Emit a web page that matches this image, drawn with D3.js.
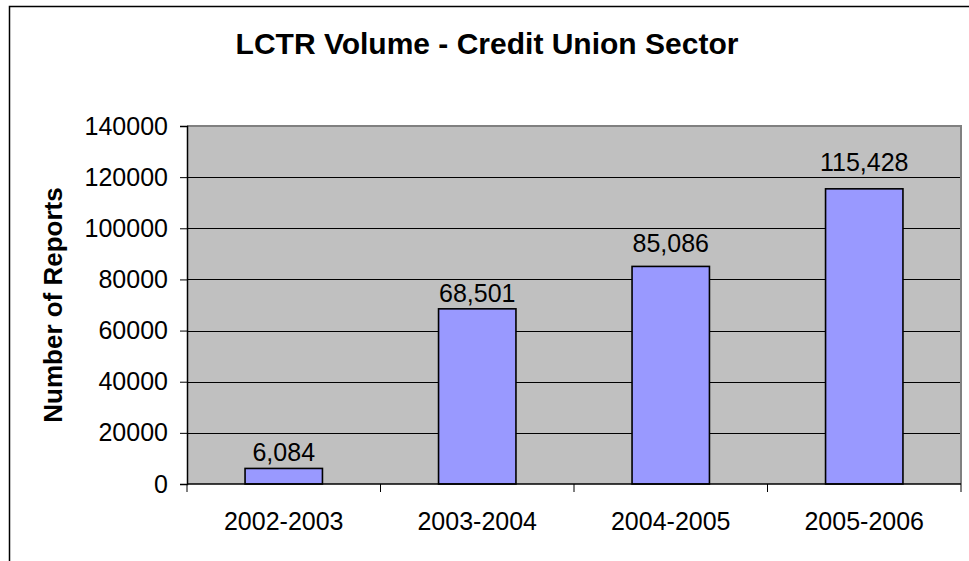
<!DOCTYPE html>
<html>
<head>
<meta charset="utf-8">
<script src="https://cdn.jsdelivr.net/npm/d3@7"></script>
<style>
  html, body { margin: 0; padding: 0; background: #fff; }
  svg { display: block; font-family: Arial, "Liberation Sans", sans-serif; }
</style>
</head>
<body>
<svg id="chart" width="969" height="561"></svg>
<script>
// Reporting periods and the number of LCTRs filed in each
const periods = ["2002-2003", "2003-2004", "2004-2005", "2005-2006"];
const reports = [6084, 68501, 85086, 115428];
const yTicks = [0, 20000, 40000, 60000, 80000, 100000, 120000, 140000];

const svg = d3.select("#chart");
const W = 969, H = 561;
const plot = { left: 187, right: 961, top: 126, bottom: 484 };

// Chart-area frame (left and top edges)
svg.append("path")
  .attr("d", `M9.5,${H} V6.5 H${W}`)
  .attr("fill", "none").attr("stroke", "#000").attr("stroke-width", 1.5);

const x = d3.scaleBand().domain(periods).range([plot.left, plot.right]).paddingInner(0).paddingOuter(0);
const y = d3.scaleLinear().domain([0, 140000]).range([plot.bottom, plot.top]);

// Plot background
svg.append("rect")
  .attr("x", plot.left).attr("y", plot.top)
  .attr("width", plot.right - plot.left).attr("height", plot.bottom - plot.top)
  .attr("fill", "#C0C0C0");

// Gridlines
svg.append("g").selectAll("line")
  .data(yTicks.filter(d => d > 0 && d < 140000))
  .join("line")
  .attr("x1", plot.left).attr("x2", plot.right)
  .attr("y1", d => Math.round(y(d)) + 0.5).attr("y2", d => Math.round(y(d)) + 0.5)
  .attr("stroke", "#000").attr("stroke-width", 1);

// Plot-area border: grey on top and right
svg.append("path")
  .attr("d", `M${plot.left},${plot.top} H${plot.right} V${plot.bottom}`)
  .attr("fill", "none").attr("stroke", "#808080").attr("stroke-width", 2);

// Bars
const barW = x.bandwidth() * 0.4;
svg.append("g").selectAll("rect")
  .data(periods)
  .join("rect")
  .attr("x", (d) => x(d) + (x.bandwidth() - barW) / 2)
  .attr("y", (d, i) => y(reports[i]))
  .attr("width", barW)
  .attr("height", (d, i) => y(0) - y(reports[i]))
  .attr("fill", "#9999FF").attr("stroke", "#000").attr("stroke-width", 1.6);

// Value labels (the two taller bars have their labels lifted a little higher)
const labelGap = i => (i < 2 ? 7 : i === 2 ? 14 : 18);
svg.append("g").selectAll("text")
  .data(periods)
  .join("text")
  .attr("x", d => x(d) + x.bandwidth() / 2)
  .attr("y", (d, i) => y(reports[i]) - labelGap(i))
  .attr("text-anchor", "middle")
  .attr("font-size", 25)
  .attr("fill", "#000")
  .text((d, i) => d3.format(",")(reports[i]));

// Y axis
const yAxis = d3.axisLeft(y).tickValues(yTicks).tickSize(7).tickPadding(12).tickFormat(d3.format("d"));
const gy = svg.append("g").attr("transform", `translate(${plot.left},0)`).call(yAxis);
gy.select(".domain").attr("stroke", "#000").attr("stroke-width", 1.5);
gy.selectAll(".tick line").attr("stroke", "#000").attr("stroke-width", 1);
gy.selectAll(".tick text").attr("font-size", 25).attr("font-family", "Arial, 'Liberation Sans', sans-serif").attr("fill", "#000");

// X axis with ticks at category boundaries
const gx = svg.append("g").attr("transform", `translate(0,${plot.bottom})`);
gx.append("line")
  .attr("x1", plot.left).attr("x2", plot.right)
  .attr("stroke", "#000").attr("stroke-width", 1.5);
const bounds = periods.map(p => x(p)).concat([plot.right]);
gx.selectAll("line.tk").data(bounds).join("line").attr("class", "tk")
  .attr("x1", d => d).attr("x2", d => d).attr("y1", 0).attr("y2", 8)
  .attr("stroke", "#000").attr("stroke-width", 1);
gx.selectAll("text").data(periods).join("text")
  .attr("x", d => x(d) + x.bandwidth() / 2)
  .attr("y", 46)
  .attr("text-anchor", "middle")
  .attr("font-size", 25)
  .attr("fill", "#000")
  .text(d => d);

// Title
svg.append("text")
  .attr("x", 487).attr("y", 54)
  .attr("text-anchor", "middle")
  .attr("font-size", 30).attr("font-weight", "bold")
  .text("LCTR Volume - Credit Union Sector");

// Y axis title
svg.append("text")
  .attr("transform", "translate(62,305) rotate(-90)")
  .attr("text-anchor", "middle")
  .attr("font-size", 26).attr("font-weight", "bold")
  .text("Number of Reports");
</script>
</body>
</html>
